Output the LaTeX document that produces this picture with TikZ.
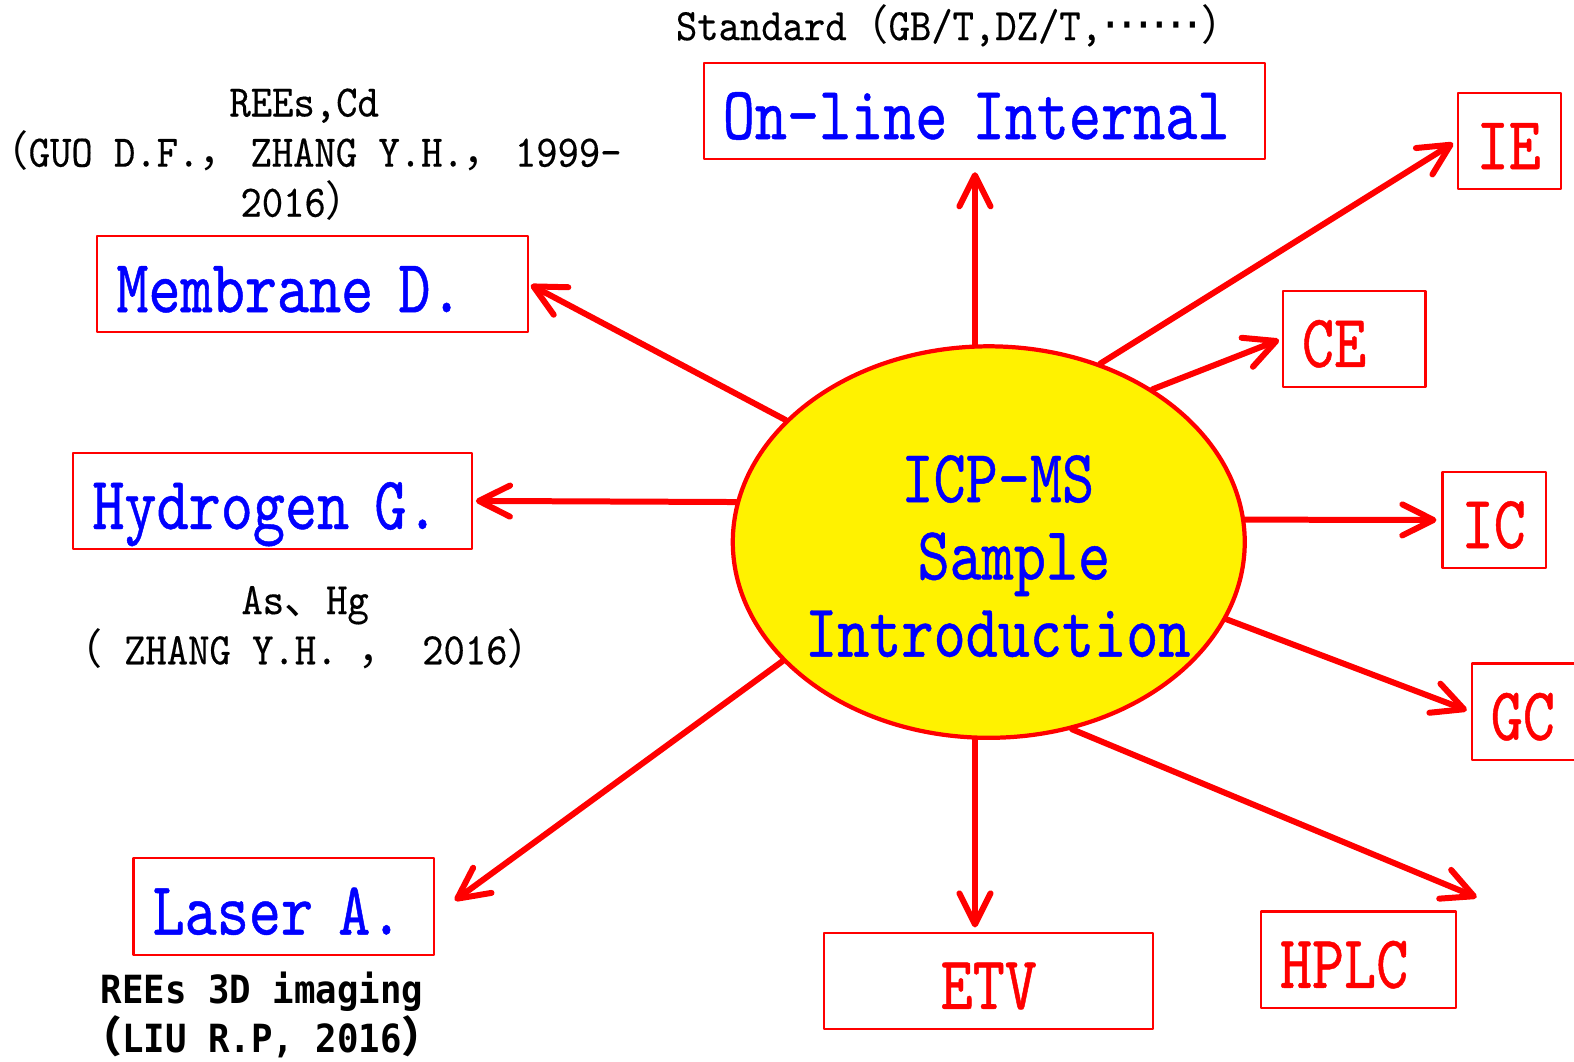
\documentclass[tikz,border=0pt]{standalone}
\usepackage{fontspec}
\usetikzlibrary{shapes.geometric,arrows.meta,positioning}
\newfontfamily\monofont[FakeStretch=0.81,FakeBold=0.6]{lmmono10-regular.otf}
\newfontfamily\notefont[FakeStretch=0.9,FakeBold=0.3]{lmmono10-regular.otf}
\newfontfamily\boldmono[FakeStretch=0.92]{DejaVu Sans Mono}
\newfontfamily\cjk[Scale=0.93]{Noto Sans CJK SC}
\newfontfamily\cjkbig[Scale=1.1]{Noto Sans CJK SC}
\newfontfamily\dejavu[Scale=1.1]{DejaVu Sans}
\newcommand{\fw}[1]{{\cjk #1}}
\begin{document}
\begin{tikzpicture}[line join=round, line cap=round,
	box/.style={draw=red, line width=0.6pt, minimum height=0.96cm, inner xsep=0.19cm, inner ysep=0pt,
		text width=#1, align=left, text height=0.62cm, text depth=0.06cm,
		font=\monofont\fontsize{21.4}{22}\selectfont},
	arr/.style={draw=red, line width=1.7pt, -{Straight Barb[round,length=3.1mm,width=3.1mm]}},
	note/.style={align=center, inner sep=1pt, font=\notefont\fontsize{12.8}{14.2}\selectfont}]
	\useasboundingbox (0,0) rectangle (15.68,-10.57);
	% centre
	\node[ellipse, draw=red, line width=1.2pt, fill=yellow, minimum width=5.1cm, minimum height=3.9cm] (icp) at (9.85,-5.40) {};
	\node[align=center, text=blue, font=\monofont\fontsize{21.4}{21.9}\selectfont] (icplabel) at (9.94,-5.54)
		{ICP-MS\\\hphantom{I}Sample\\Introduction};
	% left and top boxes
	\node[box=5.21cm, text=blue] (online) at (9.805,-1.105) {On-line Internal};
	\node[box=3.91cm, text=blue] (membrane) at (3.115,-2.83) {Membrane D.};
	\node[box=3.59cm, text=blue] (hydrogen) at (2.715,-4.99) {Hydrogen G.};
	\node[box=2.61cm, text=blue] (laser) at (2.825,-9.03) {Laser A.};
	% right and bottom boxes
	\node[box=2.90cm, text=red, align=center] (etv) at (9.85,-9.77) {ETV};
	\node[box=1.56cm, text=red] (hplc) at (13.53,-9.56) {HPLC};
	\node[box=0.68cm, text=red] (gc) at (15.19,-7.09) {GC};
	\node[box=0.65cm, text=red] (ic) at (14.885,-5.18) {IC};
	\node[box=1.04cm, text=red] (ce) at (13.49,-3.375) {CE};
	\node[box=0.65cm, text=red] (ie) at (15.035,-1.405) {IE};
	% notes
	\node[note, anchor=base] (std) at (9.56,-0.40) {Standard\fw{（}GB/T,DZ/T,{\dejavu ⋯⋯}\fw{）}};
	\node[note] (guo) at (3.03,-1.54) {REEs,Cd\\\fw{（}GUO D.F.\fw{，}\hspace{0.2em}ZHANG Y.H.\fw{，}\hspace{0.2em}1999-\\2016\fw{）}};
	\node[note] (zhang) at (3.04,-6.25) {As\fw{、}Hg\\\fw{（} ZHANG Y.H. \fw{，} 2016\fw{）}};
	\node[align=center, font=\boldmono\bfseries\fontsize{11}{12.2}\selectfont] (liu) at (2.61,-10.11)
		{REEs 3D imaging\\{\cjkbig\bfseries （}LIU R.P, 2016{\cjkbig\bfseries ）}};
	% free ends
	\coordinate (hplctip) at ([shift={(0.2,0.13)}]hplc.north east);
	\coordinate (lasertip) at ([shift={(0.2,0.06)}]laser.east);
	% arrows
	\draw[arr, shorten >=0.12cm] (icp.94) -- (icp.94 |- online.south);
	\draw[arr, shorten >=0.04cm] (icp.58.8) -- (ie.west);
	\draw[arr, shorten >=0.03cm] (icp.43) -- (ce.west);
	\draw[arr, shorten >=0.05cm] (icp.5.6) -- (ic.west);
	\draw[arr, shorten >=0.04cm] (icp.-18.8) -- (gc.west);
	\draw[arr] (icp.-66.8) -- (hplctip);
	\draw[arr, shorten >=0.04cm] (icp.-94) -- (icp.-94 |- etv.north);
	\draw[arr] (icp.210.6) -- (lasertip);
	\draw[arr, shorten >=0.03cm] (icp.171) -- (hydrogen.east);
	\draw[arr, shorten >=0.02cm] (icp.149) -- (membrane.east);
\end{tikzpicture}
\end{document}
